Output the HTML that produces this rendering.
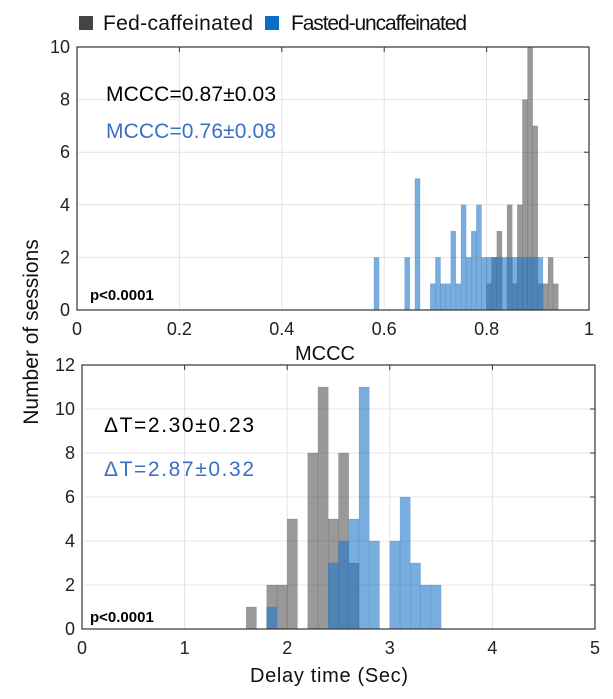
<!DOCTYPE html>
<html><head><meta charset="utf-8"><style>
body{margin:0;background:#fff;width:613px;height:694px;overflow:hidden}
svg text{font-family:"Liberation Sans",sans-serif}
</style></head><body>
<svg id="c" width="613" height="694" xmlns="http://www.w3.org/2000/svg"></svg>
<script>
// top chart data (MCCC, bin 0.01)
const topBins=[0.58,0.64,0.66,0.69,0.70,0.71,0.72,0.73,0.74,0.75,0.76,0.77,0.78,0.79,0.80,0.81,0.82,0.83,0.84,0.85,0.86,0.87,0.88,0.89,0.90,0.91,0.92,0.93];
const topFed=[0,0,0,0,0,0,0,0,0,0,0,0,0,0,1,2,3,0,4,1,4,8,10,7,1,1,2,1];
const topFasted=[2,2,5,1,2,1,1,3,1,4,2,3,4,2,2,2,2,2,2,2,2,2,2,2,2,0,0,0];
const topXTicks=["0","0.2","0.4","0.6","0.8","1"];
const topYTicks=["0","2","4","6","8","10"];
// bottom chart data (delay time, bin 0.1)
const botBins=[1.6,1.8,1.9,2.0,2.2,2.3,2.4,2.5,2.6,2.7,2.8,3.0,3.1,3.2,3.3,3.4];
const botFed=[1,2,2,5,8,11,5,8,3,0,0,0,0,0,0,0];
const botFasted=[0,1,0,0,0,0,3,4,5,11,4,4,6,3,2,2];
const botXTicks=["0","1","2","3","4","5"];
const botYTicks=["0","2","4","6","8","10","12"];

const svg=document.getElementById('c');
const NS="http://www.w3.org/2000/svg";
function mk(t,a,txt){const e=document.createElementNS(NS,t);for(const k in a)e.setAttribute(k,a[k]);if(txt!==undefined)e.textContent=txt;svg.appendChild(e);return e;}

function panel(p){
  const {x0,x1,y0,y1,xmin,xmax,ymax,bw,bins,fed,fas,xt,yt,name}=p;
  const sx=v=>x0+(v-xmin)/(xmax-xmin)*(x1-x0);
  const sy=v=>y1-v/ymax*(y1-y0);
  let r=mk('rect',{x:x0,y:y0,width:x1-x0,height:y1-y0,fill:'#fff'});
  
  xt.forEach(t=>{const v=parseFloat(t),X=sx(v);
    let g=mk('line',{x1:X,x2:X,y1:y0,y2:y1,stroke:'#e4e4e4','stroke-width':1});
    
    mk('line',{x1:X,x2:X,y1:y0,y2:y0+5,stroke:'#333'});
    let l=mk('text',{x:X,y:y1+25,'text-anchor':'middle','font-size':18,fill:'#222'},t);
    });
  yt.forEach(t=>{const v=parseFloat(t),Y=sy(v);
    let g=mk('line',{x1:x0,x2:x1,y1:Y,y2:Y,stroke:'#e4e4e4','stroke-width':1});
    
    mk('line',{x1:x1-5,x2:x1,y1:Y,y2:Y,stroke:'#333'});
    let l=mk('text',{x:x0-7,y:Y+6,'text-anchor':'end','font-size':18,fill:'#222'},t);
    });
  bins.forEach((b,i)=>{if(fed[i]>0){
    let e=mk('rect',{x:sx(b),y:sy(fed[i]),width:sx(b+bw)-sx(b),height:sy(0)-sy(fed[i]),fill:'#555','fill-opacity':0.6,stroke:'#555','stroke-opacity':0.3,'stroke-width':0.5});
    }});
  bins.forEach((b,i)=>{if(fas[i]>0){
    let e=mk('rect',{x:sx(b),y:sy(fas[i]),width:sx(b+bw)-sx(b),height:sy(0)-sy(fas[i]),fill:'#1f77c8','fill-opacity':0.6,stroke:'#1f77c8','stroke-opacity':0.3,'stroke-width':0.5});
    }});
  let f=mk('rect',{x:x0,y:y0,width:x1-x0,height:y1-y0,fill:'none',stroke:'#333','stroke-width':1.2});
  
}
panel({x0:77,x1:589,y0:47,y1:310,xmin:0,xmax:1,ymax:10,bw:0.01,bins:topBins,fed:topFed,fas:topFasted,xt:topXTicks,yt:topYTicks,name:'top'});
panel({x0:82,x1:595,y0:365,y1:629,xmin:0,xmax:5,ymax:12,bw:0.1,bins:botBins,fed:botFed,fas:botFasted,xt:botXTicks,yt:botYTicks,name:'bottom'});

function T(x,y,s,a,name){let e=mk('text',Object.assign({x:x,y:y},a),s);return e;}
let lg1=mk('rect',{x:79,y:16,width:14,height:14,fill:'#444'});
T(103,30,'Fed-caffeinated',{'font-size':21,fill:'#111',textLength:150},'legend-fed-label');
let lg2=mk('rect',{x:265,y:16,width:14,height:14,fill:'#0a6ec4'});
T(291,30,'Fasted-uncaffeinated',{'font-size':21,fill:'#111',textLength:176},'legend-fasted-label');
T(106,101,'MCCC=0.87±0.03',{'font-size':21,fill:'#000',textLength:170},'fed-mccc-stat');
T(106,138,'MCCC=0.76±0.08',{'font-size':21,fill:'#3a6fc6',textLength:170},'fasted-mccc-stat');
T(90,300,'p<0.0001',{'font-size':15,'font-weight':'bold',fill:'#000'},'top-p-value');
T(325,360,'MCCC',{'font-size':20,'text-anchor':'middle',fill:'#111'},'top-x-axis-title');
T(104,432,'ΔT=2.30±0.23',{'font-size':21,fill:'#000',textLength:150},'fed-delay-stat');
T(104,476,'ΔT=2.87±0.32',{'font-size':21,fill:'#3a6fc6',textLength:150},'fasted-delay-stat');
T(90,622,'p<0.0001',{'font-size':15,'font-weight':'bold',fill:'#000'},'bottom-p-value');
T(329,682,'Delay time (Sec)',{'font-size':20,'text-anchor':'middle',fill:'#111',textLength:158},'bottom-x-axis-title');
T(0,0,'Number of sessions',{'font-size':21,'text-anchor':'middle',fill:'#111',transform:'translate(38,332) rotate(-90)'},'y-axis-title');
</script>
</body></html>
